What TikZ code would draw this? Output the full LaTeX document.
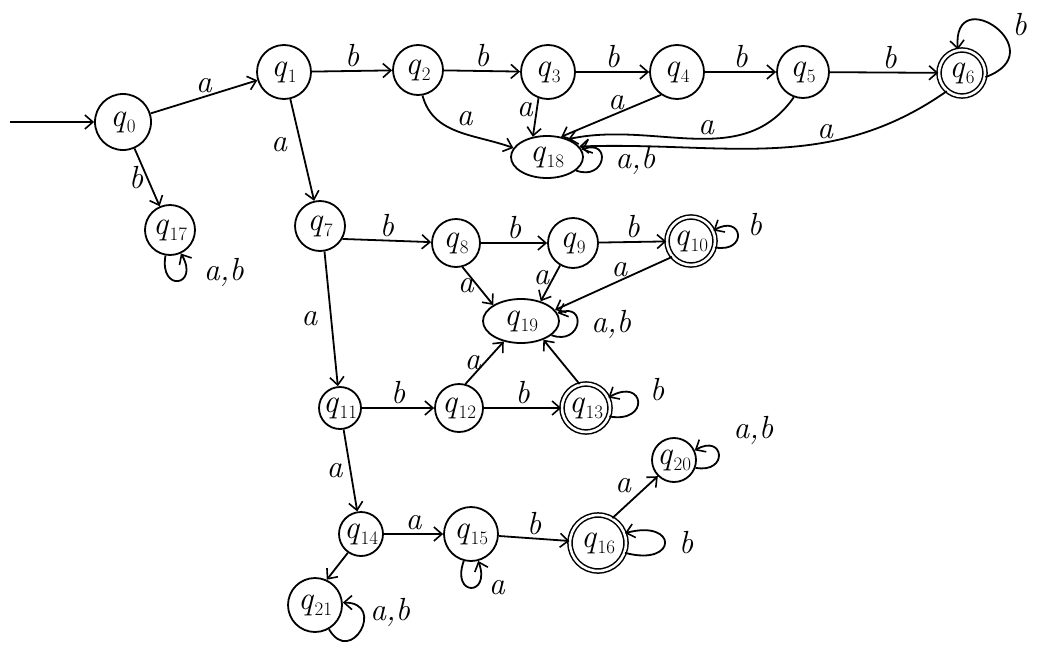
\documentclass[tikz,border=0pt]{standalone}
\usepackage{fontspec}
\setmainfont{Latin Modern Roman}
\usetikzlibrary{arrows.meta,shapes.geometric}
% state name: italic q with a lowered index
\newcommand\stname[1]{\textit{q}\kern0.5pt\raisebox{-6pt}{\fontsize{19}{19}\selectfont #1}}
\begin{document}
\begin{tikzpicture}[x=1pt,y=1pt,
  st/.style={circle,draw,line width=1.8pt,minimum size=50pt,inner sep=0pt,
    font=\fontsize{33}{34}\selectfont},
  acc/.style={st,double,double distance=2.6pt,line width=1.5pt},
  el/.style={ellipse,draw,line width=1.8pt,minimum width=72pt,minimum height=42pt,
    inner sep=0pt,font=\fontsize{33}{34}\selectfont},
  tr/.style={-{Straight Barb[length=8pt,width=14pt,line width=1.6pt]},line width=1.8pt},
  lab/.style={font=\fontsize{32}{34}\selectfont\itshape,inner sep=3pt}
]
\useasboundingbox (0,0) rectangle (1048,-653);

% states
\node[st,minimum size=56pt] (q0)  at (123,-122) {\stname{0}};
\node[st,minimum size=54pt] (q1)  at (284,-72)  {\stname{1}};
\node[st]                   (q2)  at (418,-70)  {\stname{2}};
\node[st,minimum size=54pt] (q3)  at (548,-72)  {\stname{3}};
\node[st,minimum size=54pt] (q4)  at (677,-72)  {\stname{4}};
\node[st,minimum size=52pt] (q5)  at (803,-72)  {\stname{5}};
\node[acc,minimum size=46pt] (q6) at (962,-73)  {\stname{6}};
\node[el] (q18) at (547,-157) {\stname{18}};
\node[st] (q17) at (170,-230) {\stname{17}};
\node[st] (q7)  at (320,-226) {\stname{7}};
\node[st,minimum size=48pt] (q8)  at (456,-243) {\stname{8}};
\node[st] (q9)  at (573,-243) {\stname{9}};
\node[acc,minimum size=48pt] (q10) at (691,-241) {\stname{10}};
\node[el,minimum width=76pt,minimum height=44pt] (q19) at (521,-321) {\stname{19}};
\node[st,minimum size=42pt] (q11) at (340,-408) {\stname{11}};
\node[st,minimum size=48pt] (q12) at (459,-408) {\stname{12}};
\node[acc,minimum size=48pt] (q13) at (586,-408) {\stname{13}};
\node[st,minimum size=44pt] (q14) at (361,-534) {\stname{14}};
\node[st,minimum size=54pt] (q15) at (471,-534) {\stname{15}};
\node[acc,minimum size=56pt] (q16) at (598,-543) {\stname{16}};
\node[st,minimum size=44pt] (q20) at (674,-460) {\stname{20}};
\node[st,minimum size=54pt] (q21) at (315,-605) {\stname{21}};

\coordinate (start) at (10,-122);

% transitions
\draw[tr] (start) -- (q0);
\draw[tr] (q0) -- node[lab,above,pos=0.5] {a} (q1);
\draw[tr] (q0) -- node[lab,left] {b} (q17);
\draw[tr] (q1) -- node[lab,above] {b} (q2);
\draw[tr] (q1) -- node[lab,left,pos=0.45,xshift=-10pt] {a} (q7);
\draw[tr] (q2) -- node[lab,above] {b} (q3);
\draw[tr] (q3) -- node[lab,above] {b} (q4);
\draw[tr] (q4) -- node[lab,above] {b} (q5);
\draw[tr] (q5) -- node[lab,above,pos=0.55] {b} (q6);

\draw[tr] (q2.-80) to[out=-75,in=160] node[lab,above right,pos=0.45] {a} (q18.165);
\draw[tr] (q3.-110) -- node[lab,left,pos=0.3] {a} (q18.125);
\draw[tr] (q4.-125) -- node[lab,above,pos=0.45] {a} (q18.55);
\draw[tr] (q5.-110) to[out=235,in=12] node[lab,above,pos=0.45] {a} (q18.40);
\draw[tr] (q6.-130) to[out=215,in=2] node[lab,above,pos=0.35] {a} (q18.18);

% self-loops
\draw[tr] (q6.-10) .. controls +(20:75) and +(95:70) .. (q6.100)
  node[lab,above right,pos=0.45,xshift=8pt,yshift=-8pt] {b};
\draw[tr] (q18.-25) .. controls +(-20:32) and +(20:32) .. (q18.12)
  node[lab,right,pos=0.5,xshift=10pt] {a,b};
\draw[tr] (q17.-100) .. controls +(-100:38) and +(-60:38) .. (q17.-65)
  node[lab,right,pos=0.55,xshift=20pt,yshift=8pt] {a,b};

\draw[tr] (q7.-30) -- node[lab,above] {b} (q8);
\draw[tr] (q8) -- node[lab,above] {b} (q9);
\draw[tr] (q9) -- node[lab,above] {b} (q10);
\draw[tr] (q8.-75) -- node[lab,left] {a} (q19.150);
\draw[tr] (q9.-120) -- node[lab,left,pos=0.35] {a} (q19.45);
\draw[tr] (q10.-140) -- node[lab,above,pos=0.45] {a} (q19.18);
\draw[tr] (q10.-15) .. controls +(-10:34) and +(30:34) .. (q10.25)
  node[lab,right,pos=0.5,xshift=6pt,yshift=10pt] {b};
\draw[tr] (q19.-25) .. controls +(-20:32) and +(20:32) .. (q19.12)
  node[lab,right,pos=0.5,xshift=10pt] {a,b};

\draw[tr] (q7.-80) -- node[lab,left,xshift=-10pt] {a} (q11);
\draw[tr] (q11) -- node[lab,above] {b} (q12);
\draw[tr] (q12) -- node[lab,above] {b} (q13);
\draw[tr] (q12.75) -- node[lab,left] {a} (q19.-130);
\draw[tr] (q13.105) -- (q19.-40);
\draw[tr] (q13.-20) .. controls +(-10:42) and +(30:42) .. (q13.25)
  node[lab,right,pos=0.5,xshift=8pt,yshift=12pt] {b};

\draw[tr] (q11) -- node[lab,left,xshift=-4pt] {a} (q14);
\draw[tr] (q14) -- node[lab,above] {a} (q15);
\draw[tr] (q14.-125) -- (q21.65);
\draw[tr] (q15) -- node[lab,above] {b} (q16);
\draw[tr] (q15.-105) .. controls +(-110:38) and +(-70:38) .. (q15.-75)
  node[lab,right,pos=0.55,xshift=12pt] {a};
\draw[tr] (q16.60) -- node[lab,above left] {a} (q20.-135);
\draw[tr] (q16.-20) .. controls +(-15:55) and +(15:55) .. (q16.20)
  node[lab,right,pos=0.5,xshift=10pt] {b};
\draw[tr] (q20.-20) .. controls +(-10:34) and +(30:34) .. (q20.25)
  node[lab,above right,pos=0.6,xshift=12pt,yshift=2pt] {a,b};
\draw[tr] (q21.-60) .. controls +(-60:44) and +(0:44) .. (q21.5)
  node[lab,right,pos=0.55,xshift=4pt,yshift=14pt] {a,b};
\end{tikzpicture}
\end{document}
